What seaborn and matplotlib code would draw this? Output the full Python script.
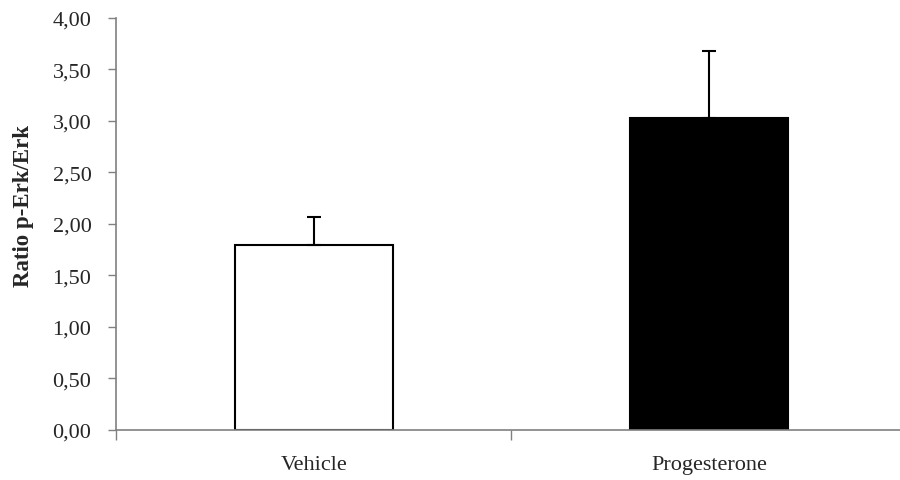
import matplotlib
matplotlib.use("Agg")
import matplotlib.pyplot as plt
import seaborn as sns
import pandas as pd
import numpy as np

# values
groups = ["Vehicle", "Progesterone"]
ratio = [1.80, 3.03]
sem = [0.27, 0.65]
bar_colors = ["white", "black"]
yticks = [0.0, 0.5, 1.0, 1.5, 2.0, 2.5, 3.0, 3.5, 4.0]

df = pd.DataFrame({"group": groups, "ratio": ratio})

sns.set_style("white")
plt.rcParams["font.family"] = ["Liberation Serif", "DejaVu Serif"]

fig = plt.figure(figsize=(9, 4.81), dpi=100)
ax = fig.add_axes([0.1294, 0.104, 0.8778, 0.8565])

sns.barplot(data=df, x="group", y="ratio", hue="group", palette=bar_colors,
            width=0.4, edgecolor="black", linewidth=1.5, legend=False, ax=ax,
            errorbar=None)

# one-sided (upper) error bars
ax.errorbar(np.arange(len(groups)), ratio, yerr=[np.zeros(len(sem)), sem],
            fmt="none", ecolor="black", elinewidth=1.5, capsize=5, capthick=1.5)

ax.set_xlim(-0.5, 1.5)
ax.set_ylim(0, 4.0)
ax.set_yticks(yticks)
ax.set_yticklabels([f"{v:.2f}".replace(".", ",") for v in yticks])
ax.set_xlabel("")
ax.set_ylabel("Ratio p-Erk/Erk", fontsize=16.5, fontweight="bold")
ax.yaxis.set_label_coords(-0.105, 0.545)

for side in ["top", "right"]:
    ax.spines[side].set_visible(False)
for side in ["left", "bottom"]:
    ax.spines[side].set_color("#808080")
    ax.spines[side].set_linewidth(1.2)

ax.tick_params(axis="y", direction="out", length=6, width=1, color="#808080",
               labelsize=16, pad=12, left=True)
ax.tick_params(axis="x", which="major", length=0, labelsize=16, pad=18)
ax.set_xticks([-0.5, 0.5], minor=True)
ax.tick_params(axis="x", which="minor", direction="out", length=7, width=1,
               color="#808080", bottom=True)

fig.savefig("out.png", dpi=100)
